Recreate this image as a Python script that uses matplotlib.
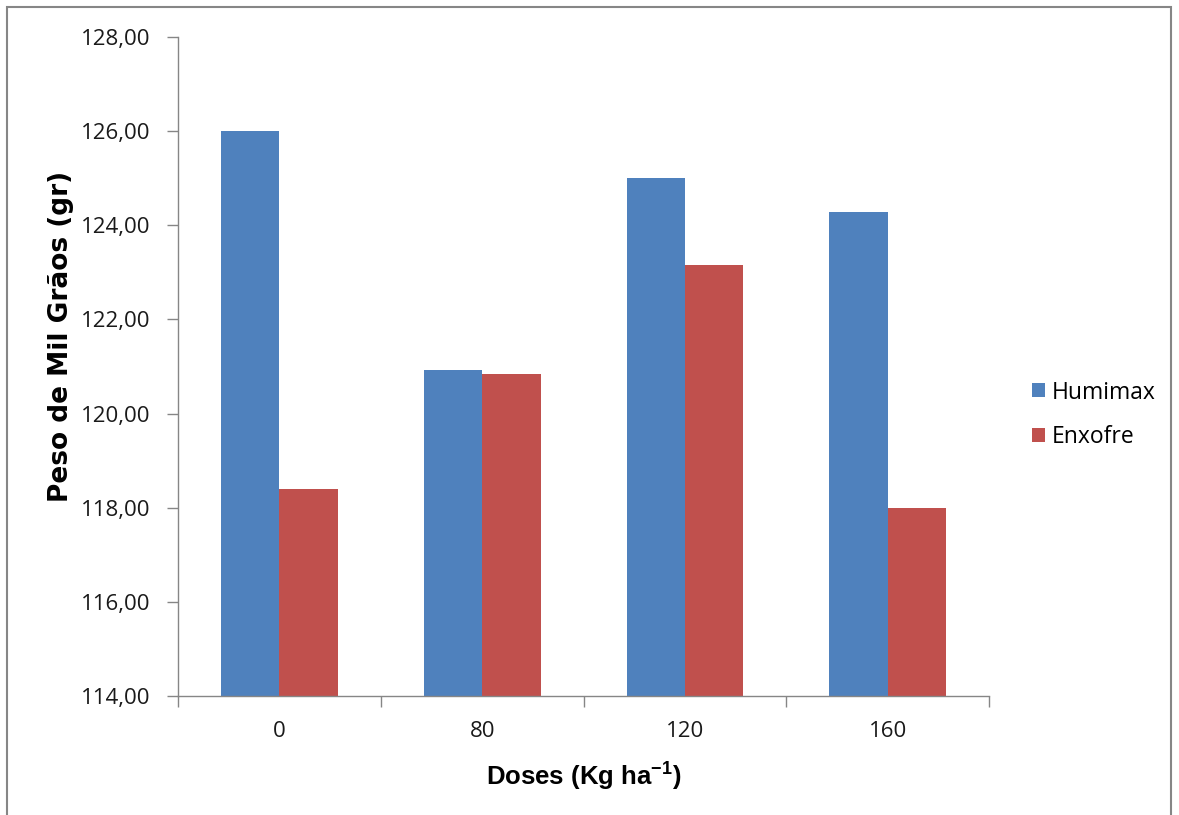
import matplotlib.pyplot as plt
import numpy as np
from matplotlib.ticker import FuncFormatter, FixedLocator

# Data
doses = ['0', '80', '120', '160']
humimax = [126.00, 120.93, 125.00, 124.28]
enxofre = [118.40, 120.84, 123.16, 117.99]

plt.rcParams['mathtext.fontset'] = 'custom'
plt.rcParams['mathtext.rm'] = 'Liberation Sans:bold'
plt.rcParams['mathtext.bf'] = 'Liberation Sans:bold'

fig = plt.figure(figsize=(11.79, 8.15), dpi=100)
ax = fig.add_axes([0.151, 0.146, 0.688, 0.8086])

x = np.arange(len(doses))
width = 0.288

ax.bar(x - width/2, humimax, width, color='#4F81BD', label='Humimax')
ax.bar(x + width/2, enxofre, width, color='#C0504D', label='Enxofre')

ax.set_xlim(-0.5, len(doses) - 0.5)
ax.set_ylim(114, 128)
ax.set_yticks(np.arange(114, 129, 2))
ax.yaxis.set_major_formatter(FuncFormatter(lambda v, p: f'{v:.2f}'.replace('.', ',')))

ax.set_xticks(x)
ax.set_xticklabels(doses)
ax.xaxis.set_minor_locator(FixedLocator(np.arange(-0.5, len(doses), 1)))
ax.tick_params(axis='x', which='major', length=0, pad=18)
ax.tick_params(axis='x', which='minor', length=8, color='#868686', width=1)
ax.tick_params(axis='y', length=8, color='#868686', width=1, pad=12)

for lbl in ax.get_xticklabels() + ax.get_yticklabels():
    lbl.set_fontfamily('Open Sans')
    lbl.set_fontsize(16)
    lbl.set_color('#1a1a1a')

for s in ['top', 'right']:
    ax.spines[s].set_visible(False)
for s in ['left', 'bottom']:
    ax.spines[s].set_color('#868686')
    ax.spines[s].set_linewidth(1)

fig.text(0.4948, 0.049, 'Doses (Kg ha$^{\\mathbf{-1}}$)', ha='center', va='center',
         fontsize=18.5, fontweight='bold', family='Liberation Sans')
fig.text(0.052, 0.587, 'Peso de Mil Grãos (gr)', ha='center', va='center', rotation=90,
         fontsize=19, fontweight='bold', family='DejaVu Sans')

leg = fig.legend(loc='center left', bbox_to_anchor=(0.8753, 0.4910), frameon=False,
                 prop={'family': 'Open Sans', 'size': 16.5}, handlelength=0.57,
                 handleheight=0.57, handletextpad=0.3, labelspacing=0.9,
                 borderpad=0, borderaxespad=0)

# chart border
fig.add_artist(plt.Rectangle((0.006, -0.01), 0.987, 1.002, transform=fig.transFigure,
                             fill=False, edgecolor='#868686', linewidth=1.5))

fig.savefig('out.png', dpi=100)
